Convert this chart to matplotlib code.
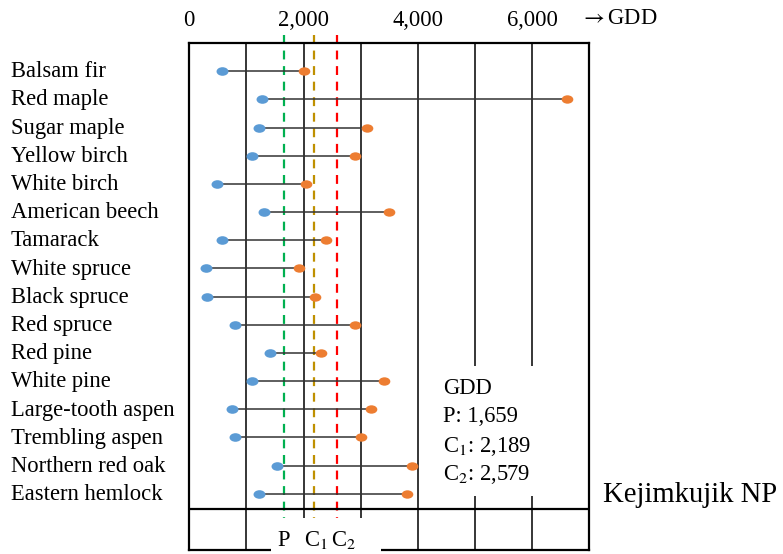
import numpy as np
import matplotlib.pyplot as plt
from matplotlib.path import Path
from matplotlib.transforms import Affine2D
from matplotlib.patches import Rectangle

plt.rcParams['font.family'] = ['Liberation Serif', 'DejaVu Serif']
plt.rcParams['mathtext.fontset'] = 'stix'

# data
species = ['Balsam fir', 'Red maple', 'Sugar maple', 'Yellow birch', 'White birch',
           'American beech', 'Tamarack', 'White spruce', 'Black spruce', 'Red spruce',
           'Red pine', 'White pine', 'Large-tooth aspen', 'Trembling aspen',
           'Northern red oak', 'Eastern hemlock']
gdd_min = [567, 1267, 1225, 1103, 485, 1302, 567, 287, 304, 805,
           1407, 1103, 747, 805, 1530, 1225]
gdd_max = [2013, 6604, 3104, 2905, 2042, 3500, 2387, 1914, 2205, 2905,
           2305, 3407, 3174, 3005, 3892, 3805]
ref_names = ['P', 'C$_1$', 'C$_2$']
ref_gdd = [1659, 2189, 2579]
ref_colors = ['#00B050', '#BF9000', '#FF0000']
top_ticks = [0, 2000, 4000, 6000]
site = 'Kejimkujik NP'

fig = plt.figure(figsize=(7.83, 5.54), dpi=100)
W, H = 783, 554
ax = fig.add_axes([189.3 / W, 1 - 550 / H, 400 / W, 507 / H])
ax.set_xlim(0, 7000)
ax.set_ylim(17, -1)
for s in ax.spines.values():
    s.set_linewidth(1.6)
    s.set_zorder(2.6)
ax.set_xticks([])
ax.set_yticks([])

# grid
for gx in range(1000, 7000, 1000):
    ax.axvline(gx, color='black', lw=1.1, zorder=1)
ax.axhline(15.55, color='black', lw=1.6, zorder=2.6)

# reference lines
for g, c in zip(ref_gdd, ref_colors):
    ax.plot([g, g], [-1.3, 17], color=c, lw=1.6, ls=(0, (4, 3)), zorder=1.5, clip_on=False)

# ellipse marker
ell = Path.unit_circle().transformed(Affine2D().scale(1.0, 0.72))

y = np.arange(len(species))
for i in range(len(species)):
    ax.plot([gdd_min[i], gdd_max[i]], [y[i], y[i]], color='#333333', lw=1.1, zorder=2)
ax.plot(gdd_min, y, ls='none', marker=ell, ms=8.6, color='#5B9BD5', mec='none', zorder=3)
ax.plot(gdd_max, y, ls='none', marker=ell, ms=8.4, color='#ED7D31', mec='none', zorder=3)

# white boxes covering grid
ax.add_patch(Rectangle((4040, 10.47), 2930, 4.6, facecolor='white', edgecolor='none', zorder=1.8))
ax.add_patch(Rectangle((1430, 15.85), 1930, 1.5, facecolor='white', edgecolor='none',
                       zorder=2.8, clip_on=False))

# species labels
for i, name in enumerate(species):
    fig.text(11 / W, 1 - (71.7 + 28.2 * i) / H, name, fontsize=16.3, ha='left', va='center')

# top tick labels
for t in top_ticks:
    ax.text(t, -1.8, f'{t:,}', fontsize=16.3, ha='center', va='center', clip_on=False)
fig.text(580 / W, 1 - 19 / H, r'$\rightarrow$GDD', fontsize=16.3, ha='left', va='center')

# reference labels at bottom
ax.text(1659, 16.65, 'P', fontsize=16.3, ha='center', va='center', zorder=4, clip_on=False)
ax.text(2210, 16.65, 'C$_1$', fontsize=16.3, ha='center', va='center', zorder=4, clip_on=False)
ax.text(2700, 16.65, 'C$_2$', fontsize=16.3, ha='center', va='center', zorder=4, clip_on=False)

# GDD box text
box_lines = ['GDD'] + [f'{n}: {g:,}' for n, g in zip(ref_names, ref_gdd)]
for k, line in enumerate(box_lines):
    fig.text(443 / W, 1 - (388 + 29 * k) / H, line, fontsize=16.3, ha='left', va='center')

fig.text(603 / W, 1 - 495 / H, site, fontsize=20.6, ha='left', va='center')

fig.savefig('out.png', dpi=100)
